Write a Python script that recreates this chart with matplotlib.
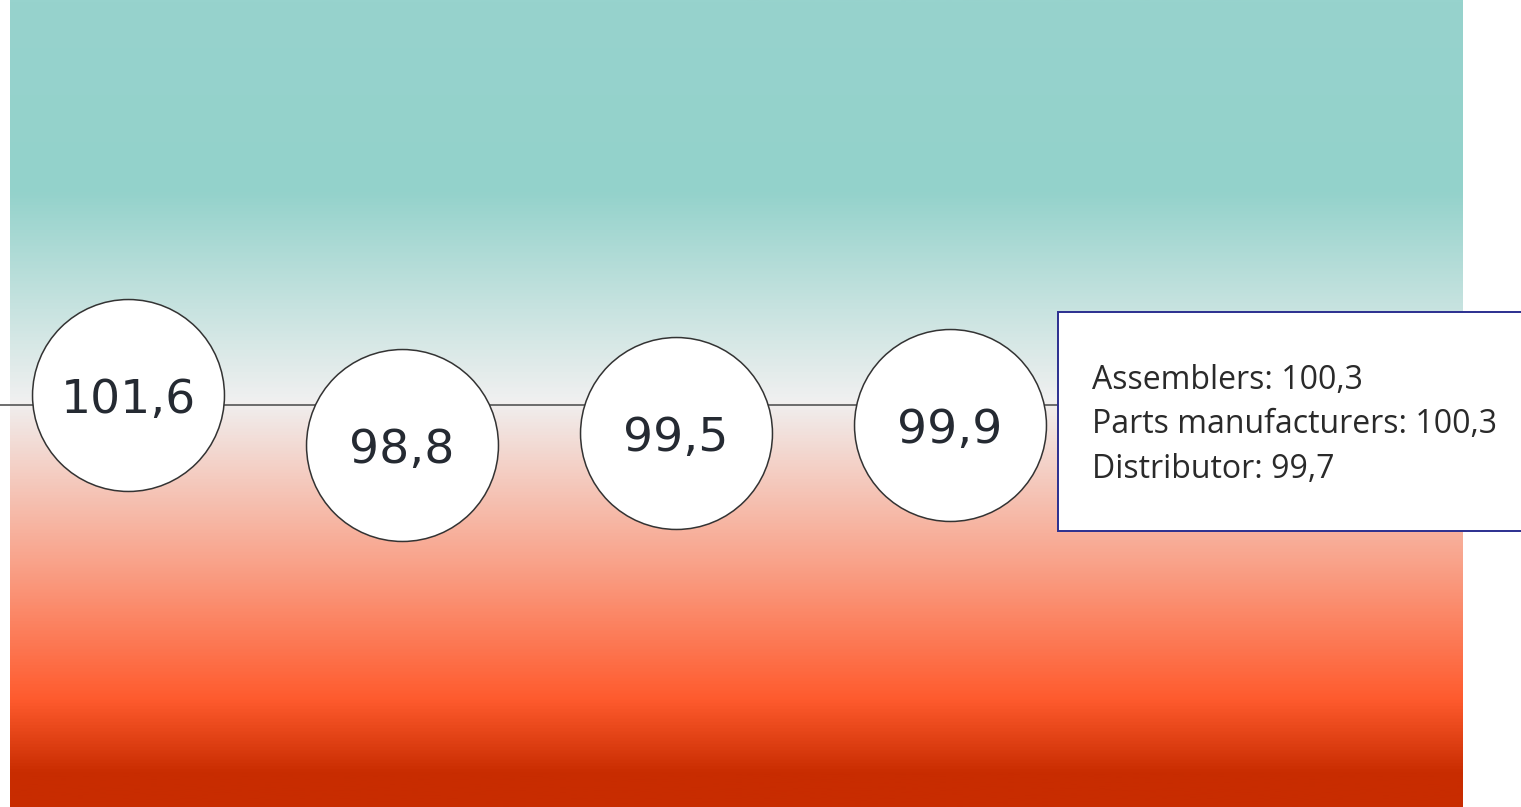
import matplotlib.pyplot as plt
import numpy as np
from matplotlib.colors import LinearSegmentedColormap
from matplotlib.patches import Rectangle

# data
labels = ['101,6', '98,8', '99,5', '99,9']
values = [101.6, 98.8, 99.5, 99.9]
reference = 101.03
tooltip_lines = ['Assemblers: 100,3',
                 'Parts manufacturers: 100,3',
                 'Distributor: 99,7']

W, H = 1521, 807
fig = plt.figure(figsize=(W / 100, H / 100), dpi=100)

# gradient background
grad_stops = [(0.0, '#97d3cd'), (0.235, '#93d2cb'), (0.496, '#f0f0f0'),
              (0.694, '#f9a48c'), (0.867, '#ff5b2e'), (0.96, '#c82c00'),
              (1.0, '#c82c00')]
cmap = LinearSegmentedColormap.from_list('bg', grad_stops)
ax_bg = fig.add_axes([10 / W, 0, 1453 / W, 1])
ax_bg.imshow(np.linspace(0, 1, 512).reshape(-1, 1), aspect='auto', cmap=cmap,
             extent=[0, 1, 1, 0])
ax_bg.axis('off')

# main axes: x = category index, y = value
ax = fig.add_axes([0, 0, 1, 1])
ax.patch.set_alpha(0)
ax.set_xlim(-0.4672, 5.0839)
ax.set_ylim(78.68, 123.56)
ax.axis('off')

x = np.arange(len(values))
ax.axhline(reference, color='#555555', linewidth=1.2, zorder=1)
ax.scatter(x, values, s=19100, facecolor='white', edgecolor='#333333',
           linewidth=1.1, zorder=2)
for xi, v, lab in zip(x, values, labels):
    ax.annotate(lab, (xi, v), xytext=(0, -4), textcoords='offset points',
                ha='center', va='center', fontsize=34,
                family='DejaVu Sans', color='#252a32', zorder=3)

# tooltip box
box = Rectangle((1058 / W, 1 - 531 / H), 600 / W, 219 / H,
                transform=fig.transFigure, facecolor='white',
                edgecolor='#2b2f8f', linewidth=1.4, zorder=5)
fig.add_artist(box)
for i, line in enumerate(tooltip_lines):
    fig.text(1092 / W, 1 - (380 + 44.5 * i) / H, line, ha='left',
             va='center', fontsize=23, family='Open Sans', color='#2a2a2a',
             zorder=6)

fig.savefig('out.png', dpi=100)
